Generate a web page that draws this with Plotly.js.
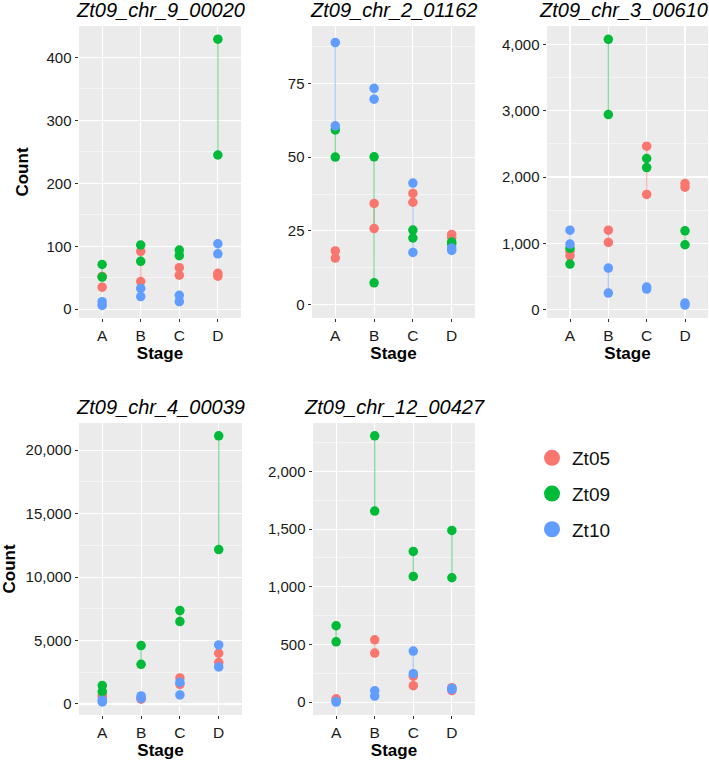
<!DOCTYPE html>
<html>
<head>
<meta charset="utf-8">
<script src="https://cdn.plot.ly/plotly-3.0.1.min.js"></script>
<style>html,body{margin:0;padding:0;background:#fff;}</style>
</head>
<body>
<div id="chart" style="width:709px;height:760px;"></div>
<script>
// ---------- data ----------
const stages = ['A', 'B', 'C', 'D'];
const strains = ['Zt05', 'Zt09', 'Zt10'];
const genes = ['Zt09_chr_9_00020', 'Zt09_chr_2_01162', 'Zt09_chr_3_00610', 'Zt09_chr_4_00039', 'Zt09_chr_12_00427'];

// gene 1: Zt09_chr_9_00020 (two replicates per stage)
const g1_Zt05_rep1 = [35, 44, 54, 52.5];
const g1_Zt05_rep2 = [52, 92, 66, 57];
const g1_Zt09_rep1 = [51, 76, 85, 245];
const g1_Zt09_rep2 = [71, 102, 94, 429];
const g1_Zt10_rep1 = [6, 20, 12, 88];
const g1_Zt10_rep2 = [12, 33, 22, 104];

// gene 2: Zt09_chr_2_01162
const g2_Zt05_rep1 = [15.8, 25.8, 34.7, 22.7];
const g2_Zt05_rep2 = [18.2, 34.3, 37.7, 23.8];
const g2_Zt09_rep1 = [50, 7.4, 22.6, 20.6];
const g2_Zt09_rep2 = [59.2, 50.1, 25.3, 21.2];
const g2_Zt10_rep1 = [60.6, 69.6, 17.7, 18.4];
const g2_Zt10_rep2 = [88.8, 73.3, 41.2, 19.2];

// gene 3: Zt09_chr_3_00610
const g3_Zt05_rep1 = [813, 1014, 1737, 1847];
const g3_Zt05_rep2 = [880, 1199, 2464, 1902];
const g3_Zt09_rep1 = [688, 2941, 2143, 979];
const g3_Zt09_rep2 = [928, 4075, 2279, 1189];
const g3_Zt10_rep1 = [990, 251, 311, 70];
const g3_Zt10_rep2 = [1199, 627, 341, 100];

// gene 4: Zt09_chr_4_00039
const g4_Zt05_rep1 = [550, 370, 1550, 3259];
const g4_Zt05_rep2 = [700, 450, 2050, 3995];
const g4_Zt09_rep1 = [972, 3127, 6491, 12168];
const g4_Zt09_rep2 = [1445, 4599, 7359, 21130];
const g4_Zt10_rep1 = [158, 447, 710, 2917];
const g4_Zt10_rep2 = [300, 631, 1708, 4652];

// gene 5: Zt09_chr_12_00427
const g5_Zt05_rep1 = [20, 425, 142, 100];
const g5_Zt05_rep2 = [29, 540, 225, 125];
const g5_Zt09_rep1 = [523, 1656, 1090, 1078];
const g5_Zt09_rep2 = [662, 2309, 1306, 1488];
const g5_Zt10_rep1 = [0, 52, 246, 110];
const g5_Zt10_rep2 = [5, 98, 442, 118];

const yTickStep = [100, 25, 1000, 5000, 500];

// ---------- assembly ----------
const geneData = [
  {Zt05: [g1_Zt05_rep1, g1_Zt05_rep2], Zt09: [g1_Zt09_rep1, g1_Zt09_rep2], Zt10: [g1_Zt10_rep1, g1_Zt10_rep2]},
  {Zt05: [g2_Zt05_rep1, g2_Zt05_rep2], Zt09: [g2_Zt09_rep1, g2_Zt09_rep2], Zt10: [g2_Zt10_rep1, g2_Zt10_rep2]},
  {Zt05: [g3_Zt05_rep1, g3_Zt05_rep2], Zt09: [g3_Zt09_rep1, g3_Zt09_rep2], Zt10: [g3_Zt10_rep1, g3_Zt10_rep2]},
  {Zt05: [g4_Zt05_rep1, g4_Zt05_rep2], Zt09: [g4_Zt09_rep1, g4_Zt09_rep2], Zt10: [g4_Zt10_rep1, g4_Zt10_rep2]},
  {Zt05: [g5_Zt05_rep1, g5_Zt05_rep2], Zt09: [g5_Zt09_rep1, g5_Zt09_rep2], Zt10: [g5_Zt10_rep1, g5_Zt10_rep2]}
];

const colors = {Zt05: '#F8766D', Zt09: '#00BA38', Zt10: '#619CFF'};
const W = 709, H = 760;
// panel boxes in pixels [left, right, top, bottom]
const boxes = [
  [79, 241, 26, 318],
  [312, 475, 26, 318],
  [547, 708, 26, 318],
  [79, 242, 423, 715],
  [313, 475, 423, 715]
];
const titleCenters = [160, 393, 623, 160, 394];
const yRanges = [[-14, 450], [-4.5, 94.4], [-125, 4276], [-870, 22140], [-112, 2420]];
const countStandoff = [13, null, null, 7, null];

const lineTraces = [], pointTraces = [];
const layout = {
  width: W, height: H,
  margin: {l: 0, r: 0, t: 0, b: 0},
  paper_bgcolor: '#ffffff',
  plot_bgcolor: '#EBEBEB',
  font: {family: 'Liberation Sans, Arial, sans-serif', color: '#1a1a1a'},
  showlegend: true,
  legend: {
    x: 532 / W, y: 1 - 439 / H, xanchor: 'left', yanchor: 'top',
    font: {size: 19, color: '#111'},
    traceorder: 'grouped', tracegroupgap: 8,
    itemsizing: 'trace', bgcolor: 'rgba(0,0,0,0)'
  },
  annotations: [],
  hovermode: false
};

geneData.forEach((gd, i) => {
  const k = i + 1;
  const xa = 'x' + (k === 1 ? '' : k), ya = 'y' + (k === 1 ? '' : k);
  strains.forEach(s => {
    const r1 = gd[s][0], r2 = gd[s][1];
    const xs = [], ys = [];
    stages.forEach((st, j) => { xs.push(st, st, null); ys.push(r1[j], r2[j], null); });
    lineTraces.push({
      type: 'scatter', mode: 'lines', x: xs, y: ys, xaxis: xa, yaxis: ya,
      line: {color: colors[s], width: 1.1}, opacity: 0.55, showlegend: false, connectgaps: false
    });
    pointTraces.push({
      type: 'scatter', mode: 'markers', x: xs, y: ys, xaxis: xa, yaxis: ya,
      marker: {color: colors[s], size: 9.5, line: {width: 0}}, showlegend: false
    });
  });
  const b = boxes[i];
  const axKey = k === 1 ? '' : String(k);
  const xDom = [b[0] / W, b[1] / W];
  const yDom = [1 - b[3] / H, 1 - b[2] / H];
  layout['xaxis' + axKey] = {
    domain: xDom, anchor: ya, type: 'category', categoryorder: 'array', categoryarray: stages,
    range: [-0.6, 3.6], showgrid: true, gridcolor: '#ffffff', gridwidth: 1.1,
    zeroline: false, showline: false, ticks: 'outside', ticklen: 3, tickcolor: '#333333', tickwidth: 1,
    tickfont: {size: 15.5, color: '#1a1a1a'}, fixedrange: true,
    title: {text: '<b>Stage</b>', font: {size: 17, color: '#000'}, standoff: 4}
  };
  const step = yTickStep[i];
  layout['yaxis' + axKey] = {
    domain: yDom, anchor: xa, range: yRanges[i], tick0: 0, dtick: step,
    tickformat: ',d', showgrid: true, gridcolor: '#ffffff', gridwidth: 1.1,
    minor: {tick0: 0, dtick: step / 2, showgrid: true, gridcolor: '#ffffff', gridwidth: 0.5},
    zeroline: false, showline: false, ticks: 'outside', ticklen: 3.5, tickcolor: '#333333', tickwidth: 1,
    tickfont: {size: 15, color: '#1a1a1a'}, fixedrange: true
  };
  if (countStandoff[i] !== null) {
    layout['yaxis' + axKey].title = {text: '<b>Count</b>', font: {size: 17, color: '#000'}, standoff: countStandoff[i]};
  }
  layout.annotations.push({
    text: '<i>' + genes[i] + '</i>', xref: 'paper', yref: 'paper',
    x: titleCenters[i] / W, y: 1 - (b[2] - 16) / H, xanchor: 'center', yanchor: 'middle',
    showarrow: false, font: {size: 20, color: '#000'}
  });
});

// legend entries (keys only)
const legendTraces = strains.map(s => ({
  type: 'scatter', mode: 'markers', x: [null], y: [null], name: s, legendgroup: s,
  marker: {color: colors[s], size: 16}, showlegend: true, hoverinfo: 'skip'
}));

Plotly.newPlot('chart', lineTraces.concat(pointTraces, legendTraces), layout, {staticPlot: true, displayModeBar: false});
</script>
</body>
</html>
